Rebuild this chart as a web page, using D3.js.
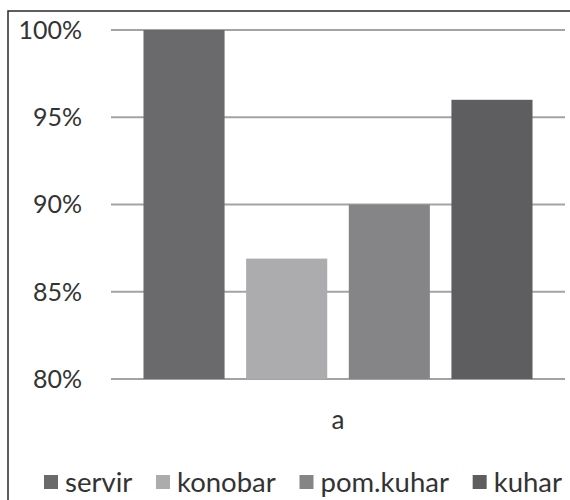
<!DOCTYPE html>
<html><head><meta charset="utf-8">
<script src="https://cdn.jsdelivr.net/npm/d3@7"></script>
<style>body{margin:0;background:#fff}svg{display:block}</style>
</head><body>
<script>
const categories = ["a"];
const series = ["servir", "konobar", "pom.kuhar", "kuhar"];
const values = [1.00, 0.869, 0.90, 0.96];
const colors = ["#6a6a6c", "#acacae", "#858587", "#5e5e60"];
const yTicks = [0.80, 0.85, 0.90, 0.95, 1.00];

const W = 570, H = 500;
const svg = d3.select("body").append("svg").attr("width", W).attr("height", H);
const font = "Lato, 'Open Sans', sans-serif";

// outer frame (top and left edges visible)
svg.append("path").attr("d", `M8,${H} L8,11 L${W},11`).attr("fill","none").attr("stroke","#2a2a2a").attr("stroke-width",1.5);

const y = d3.scaleLinear().domain([0.8, 1.0]).range([379, 30]);
const x0 = d3.scaleBand().domain(categories).range([111, 565]).paddingOuter(0.0835).paddingInner(0);
const x1 = d3.scaleBand().domain(series).range([0, x0.bandwidth()]).paddingInner(0.21).paddingOuter(0);

// gridlines
svg.append("g").selectAll("line").data(yTicks).join("line")
  .attr("x1", 111).attr("x2", 565)
  .attr("y1", d => y(d)).attr("y2", d => y(d))
  .attr("stroke", "#a3a3a3").attr("stroke-width", 2);

// y labels
svg.append("g").selectAll("text").data(yTicks).join("text")
  .attr("x", 82).attr("y", d => y(d)).attr("dy", "0.35em")
  .attr("text-anchor", "end").attr("font-family", font).attr("font-size", 25).attr("fill", "#333")
  .text(d => d3.format(".0%")(d));

// bars
const data = series.map((s, i) => ({s, v: values[i], c: colors[i]}));
svg.append("g").selectAll("rect").data(data).join("rect")
  .attr("x", d => x0("a") + x1(d.s))
  .attr("width", x1.bandwidth())
  .attr("y", d => y(d.v))
  .attr("height", d => y(0.8) - y(d.v))
  .attr("fill", d => d.c);

// category label
svg.append("g").selectAll("text").data(categories).join("text")
  .attr("x", d => x0(d) + x0.bandwidth()/2).attr("y", 420).attr("dy","0.35em")
  .attr("text-anchor","middle").attr("font-family", font).attr("font-size", 26).attr("fill","#333")
  .text(d => d);

// legend
const lg = svg.append("g");
const fs = 27.5, sq = 14, gap = 7;
let items = [];
series.forEach((s, i) => {
  const g = lg.append("g");
  g.append("rect").attr("width", sq).attr("height", sq).attr("y", -sq/2).attr("fill", colors[i]);
  const t = g.append("text").attr("x", sq + gap).attr("dy", "0.35em")
    .attr("font-family", font).attr("font-size", fs).attr("fill", "#333").text(s);
  const w = sq + gap + t.node().getComputedTextLength();
  items.push({g, w});
});
const left = 44, right = 562;
const itemGap = Math.max(8, (right - left - d3.sum(items, d => d.w)) / (items.length - 1));
const total = d3.sum(items, d => d.w) + itemGap * (items.length - 1);
let cx = (left + right) / 2 - total / 2;
items.forEach(it => { it.g.attr("transform", `translate(${cx},482)`); cx += it.w + itemGap; });
</script>
</body></html>
